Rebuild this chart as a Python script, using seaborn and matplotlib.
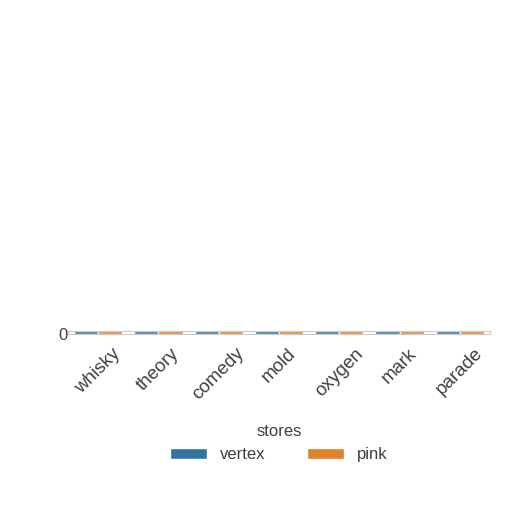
import matplotlib
matplotlib.use("Agg")
import matplotlib.pyplot as plt
import seaborn as sns
import pandas as pd

categories = ["whisky", "theory", "comedy", "mold", "oxygen", "mark", "parade"]
stores = ["vertex", "pink"]
vertex_vals = [42, 40, 44, 41, 43, 40, 42]
pink_vals = [41, 43, 40, 44, 41, 42, 44]

df = pd.DataFrame({
    "category": categories * 2,
    "stores": ["vertex"] * len(categories) + ["pink"] * len(categories),
    "value": vertex_vals + pink_vals,
})

sns.set_theme(style="white")
plt.rcParams["font.family"] = ["Liberation Sans", "DejaVu Sans"]

fig = plt.figure(figsize=(5.12, 5.12), dpi=100)
ax = fig.add_axes([68 / 512, 1 - 334 / 512, 422 / 512, 3 / 512])

sns.barplot(data=df, x="category", y="value", hue="stores",
            palette=["#1f77b4", "#ff7f0e"], ax=ax)

ax.set_yticks([0])
ax.set_ylim(0, max(vertex_vals + pink_vals))
ax.set_xlabel("")
ax.set_ylabel("")
ax.tick_params(axis="x", labelsize=13.5, colors="#404040", pad=2)
ax.tick_params(axis="y", labelsize=12, colors="#404040", pad=0, length=0)
plt.setp(ax.get_xticklabels(), rotation=45, ha="center")
for s in ax.spines.values():
    s.set_color("#cccccc")
    s.set_linewidth(0.8)

sns.move_legend(ax, "upper center", bbox_to_anchor=(0.5, -25), ncol=2,
                frameon=False, title="stores", fontsize=12, title_fontsize=12,
                handlelength=2.2, columnspacing=2.5, labelcolor="#404040")
ax.get_legend().get_title().set_color("#404040")

fig.savefig("out.png", dpi=100)
